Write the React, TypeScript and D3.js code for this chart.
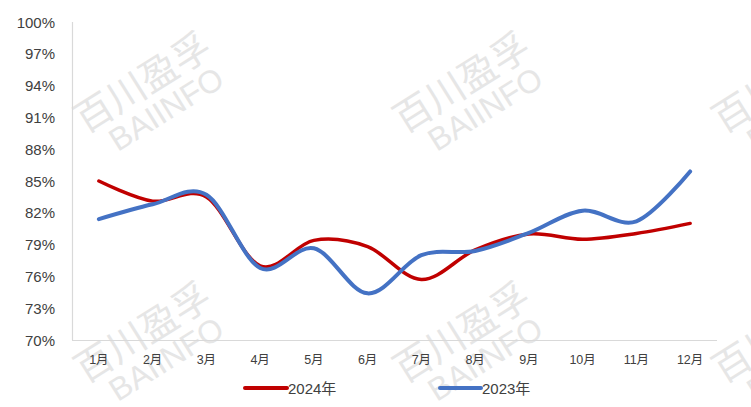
import React from "react";
import * as d3 from "d3";

const months = ["1月", "2月", "3月", "4月", "5月", "6月", "7月", "8月", "9月", "10月", "11月", "12月"];
const values2024 = [85.0, 83.1, 83.5, 77.0, 79.4, 78.8, 75.7, 78.5, 80.0, 79.5, 80.05, 81.0];
const values2023 = [81.4, 82.8, 83.7, 76.8, 78.65, 74.4, 78.0, 78.4, 80.1, 82.2, 81.2, 85.9];
const yTicks = [70, 73, 76, 79, 82, 85, 88, 91, 94, 97, 100];
const seriesNames = ["2024年", "2023年"];
const seriesColors = ["#C00000", "#4472C4"];
const watermarkText = ["百川盈孚", "BAIINFO"];

const W = 751;
const H = 407;
const left = 72;
const right = 717;
const top = 22;
const bottom = 340;

export default function App() {
  const x = d3.scalePoint<string>().domain(months).range([left, right]).padding(0.5);
  const y = d3.scaleLinear().domain([70, 100]).range([bottom, top]);
  const line = d3
    .line<number>()
    .x((_, i) => x(months[i]) as number)
    .y((d) => y(d))
    .curve(d3.curveCatmullRom.alpha(0));

  const wmCenters: [number, number][] = [];
  for (const cy of [80, 330]) for (const cx of [141, 460, 779]) wmCenters.push([cx, cy]);

  return (
    <svg width={W} height={H} style={{ position: "absolute", left: 0, top: 0, background: "#fff" }}>
      <rect x={0} y={0} width={W} height={H} fill="#fff" />
      {/* watermarks */}
      {wmCenters.map(([cx, cy], i) => (
        <g key={i} transform={`translate(${cx},${cy}) rotate(-32)`} fill="#e6e6e6">
          <text
            x={0}
            y={0}
            textAnchor="middle"
            fontSize={38}
            fontFamily="'Noto Sans CJK SC', sans-serif"
            dominantBaseline="central"
          >
            {watermarkText[0]}
          </text>
          <text
            x={6}
            y={38}
            textAnchor="middle"
            fontSize={32}
            fontFamily="'Liberation Sans', Arial, sans-serif"
            dominantBaseline="central"
          >
            {watermarkText[1]}
          </text>
        </g>
      ))}
      {/* axes */}
      <line x1={left + 0.5} x2={left + 0.5} y1={top} y2={bottom} stroke="#d9d9d9" strokeWidth={1.2} />
      <line x1={left} x2={right} y1={bottom + 0.5} y2={bottom + 0.5} stroke="#d9d9d9" strokeWidth={1.2} />
      {yTicks.map((t) => (
        <text
          key={t}
          x={55}
          y={y(t)}
          textAnchor="end"
          dominantBaseline="central"
          fontSize={15}
          fill="#404040"
          fontFamily="'Liberation Sans', Arial, sans-serif"
        >
          {t}%
        </text>
      ))}
      {months.map((m) => (
        <text
          key={m}
          x={x(m)}
          y={360}
          textAnchor="middle"
          dominantBaseline="central"
          fontSize={12.5}
          fill="#404040"
          fontFamily="'Liberation Sans', 'Noto Sans CJK SC', sans-serif"
        >
          {m}
        </text>
      ))}
      {/* lines */}
      <path d={line(values2024) || ""} fill="none" stroke={seriesColors[0]} strokeWidth={3.5} strokeLinecap="round" />
      <path d={line(values2023) || ""} fill="none" stroke={seriesColors[1]} strokeWidth={4} strokeLinecap="round" />
      {/* legend */}
      {[
        [245, 287],
        [440, 481],
      ].map(([x1, x2], i) => (
        <g key={i}>
          <line x1={x1} x2={x2} y1={388} y2={388} stroke={seriesColors[i]} strokeWidth={4} strokeLinecap="round" />
          <text
            x={x2 + 1}
            y={388}
            dominantBaseline="central"
            fontSize={15}
            fill="#404040"
            fontFamily="'Liberation Sans', 'Noto Sans CJK SC', sans-serif"
          >
            {seriesNames[i]}
          </text>
        </g>
      ))}
    </svg>
  );
}
